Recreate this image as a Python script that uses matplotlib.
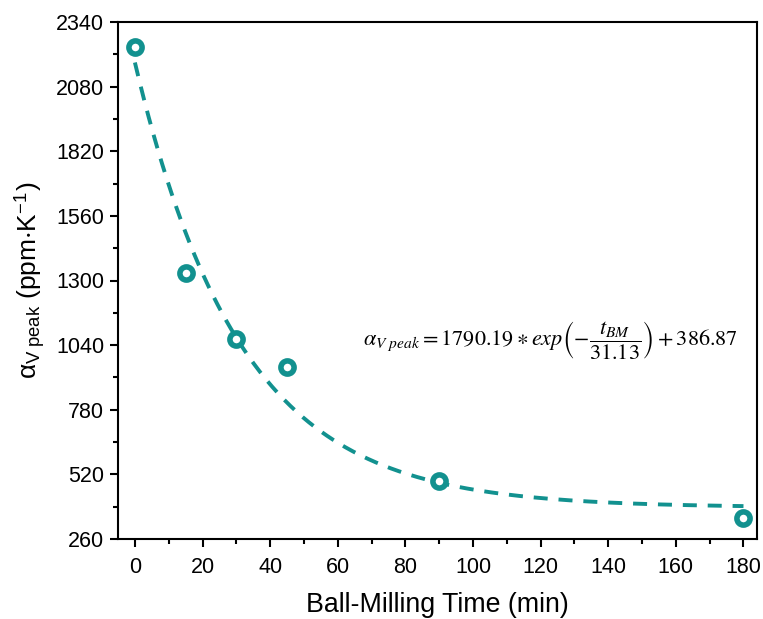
import numpy as np
import matplotlib
matplotlib.use("Agg")
import matplotlib.pyplot as plt
from matplotlib.ticker import MultipleLocator

# measured peak expansion vs ball-milling time
t_bm = [0, 15, 30, 45, 90, 180]
alpha_peak = [2240, 1330, 1065, 952, 494, 345]

# exponential decay fit parameters
fit_a = 1790.19
fit_tau = 31.13
fit_c = 386.87

teal = "#12918f"

plt.rcParams["font.family"] = ["Liberation Sans", "DejaVu Sans"]
plt.rcParams["mathtext.fontset"] = "stix"

fig = plt.figure(figsize=(7.63, 6.19), dpi=100)
ax = fig.add_axes([118 / 763, 1 - 539 / 619, (757 - 118) / 763, (539 - 22) / 619])

t_fit = np.linspace(0, 180, 400)
ax.plot(t_fit, fit_a * np.exp(-t_fit / fit_tau) + fit_c, color=teal,
        lw=2.8, dashes=(3.6, 2.8))
ax.plot(t_bm, alpha_peak, "o", ms=9.5, mfc="white", mec=teal, mew=4, zorder=3)

ax.set_xlim(-5, 184)
ax.set_ylim(260, 2340)
ax.xaxis.set_major_locator(MultipleLocator(20))
ax.xaxis.set_minor_locator(MultipleLocator(10))
ax.yaxis.set_major_locator(MultipleLocator(260))
ax.yaxis.set_minor_locator(MultipleLocator(130))
ax.tick_params(which="both", direction="out", width=1.5, labelsize=15.5)
ax.tick_params(which="major", length=6, pad=4)
ax.tick_params(axis="x", which="major", pad=7)
ax.tick_params(which="minor", length=3.5)
for s in ax.spines.values():
    s.set_linewidth(1.5)

ax.set_xlabel("Ball-Milling Time (min)", fontsize=19.3, labelpad=10)
ax.set_ylabel(r"$\mathregular{\alpha_{V\ peak}}$ (ppm$\cdot$K$^{\mathregular{-1}}$)",
              fontsize=19, labelpad=6)

ax.text(67.5, 1061,
        r"$\alpha_{V\ peak} = 1790.19 \ast exp\left(-\dfrac{t_{BM}}{31.13}\right) + 386.87$",
        fontsize=16, va="center", ha="left")

fig.savefig("out.png", dpi=100)
